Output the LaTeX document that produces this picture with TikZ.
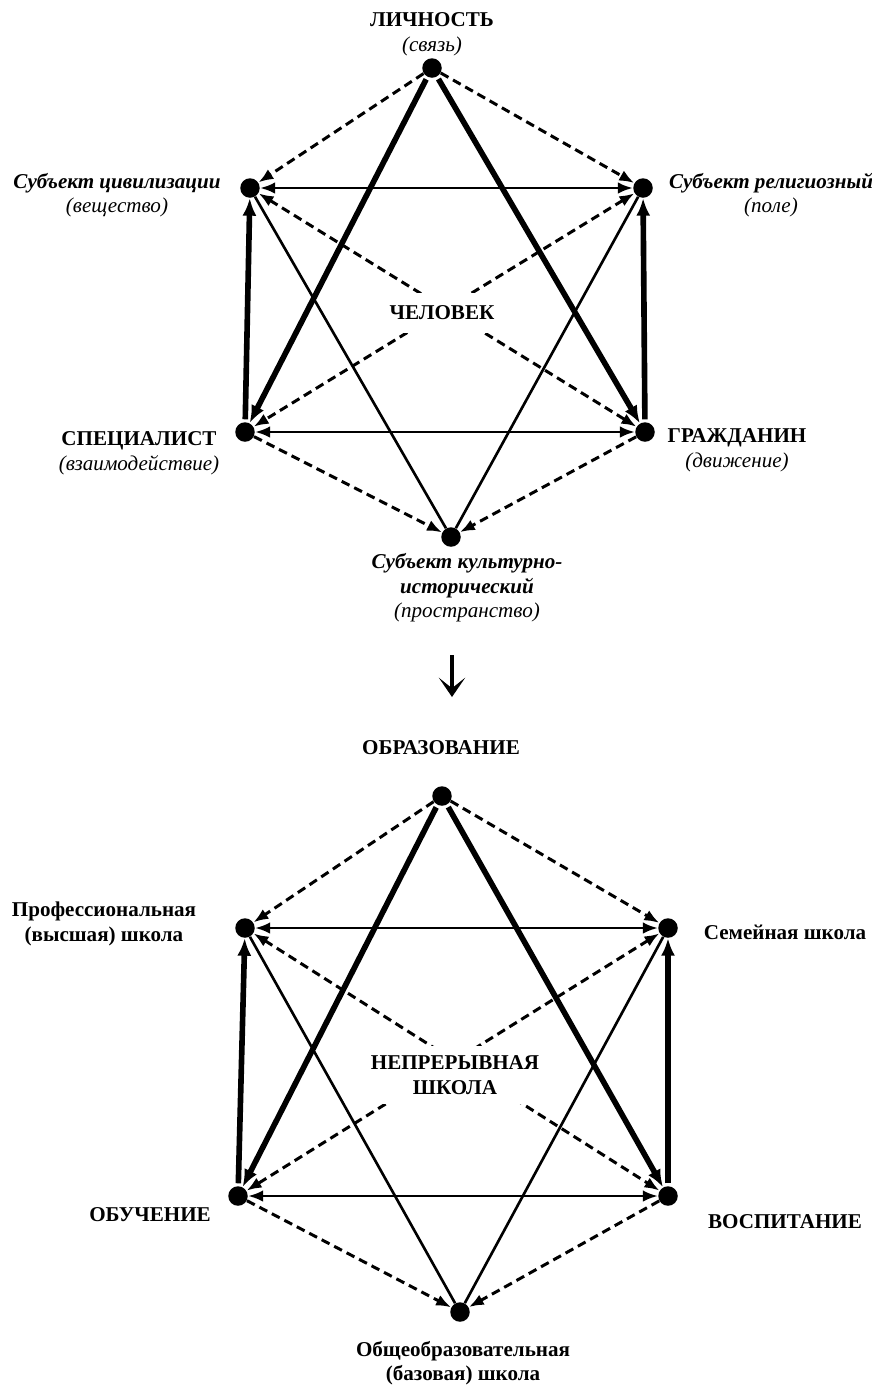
\documentclass[tikz,border=0pt]{standalone}
\usepackage{fontspec}
\setmainfont{Liberation Serif}
\usepackage{tikz}
\usetikzlibrary{arrows.meta}

\begin{document}
\begin{tikzpicture}[x=0.02cm, y=-0.02cm, font=\fontsize{12}{14}\selectfont,
    dot/.style={circle, fill=black, inner sep=0pt, minimum size=0.39cm},
    caps/.style={font=\fontsize{12}{14}\selectfont\bfseries, align=center},
    subj/.style={font=\fontsize{12}{14}\selectfont\bfseries\itshape, align=center},
    centre/.style={caps, fill=white, inner xsep=3pt, inner ysep=3pt},
    lnk/.style={line width=1.5pt},
    lnktwo/.style={lnk, {Latex[length=8.5pt,width=6.5pt]}-{Latex[length=8.5pt,width=6.5pt]}},
    lnkbold/.style={line width=3.2pt, shorten <=1.5pt, -{Latex[length=10pt,width=8pt]}},
    lnkdash/.style={line width=1.7pt, dash pattern=on 5pt off 3pt, -{Latex[length=8.5pt,width=6.5pt]}},
    lnkdashtwo/.style={lnkdash, {Latex[length=8.5pt,width=6.5pt]}-{Latex[length=8.5pt,width=6.5pt]}}]
  \useasboundingbox (0,0) rectangle (872,1387);

  % upper hexagon
  \node[dot] (lich)  at (432,68)  {};
  \node[dot] (civ)   at (250,188) {};
  \node[dot] (rel)   at (643,188) {};
  \node[dot] (spec)  at (245,432) {};
  \node[dot] (grazh) at (645,432) {};
  \node[dot] (kult)  at (451,537) {};

  \node[caps] (lich-t)  at (432,34)  {ЛИЧНОСТЬ\\{\mdseries\itshape (связь)}};
  \node[subj] (civ-t)   at (117,195) {Субъект цивилизации\\{\mdseries (вещество)}};
  \node[subj] (rel-t)   at (771,195) {Субъект религиозный\\{\mdseries (поле)}};
  \node[caps] (spec-t)  at (139,453) {СПЕЦИАЛИСТ\\{\mdseries\itshape (взаимодействие)}};
  \node[caps] (grazh-t) at (737,450) {ГРАЖДАНИН\\{\mdseries\itshape (движение)}};
  \node[subj] (kult-t)  at (467,588) {Субъект культурно-\\исторический\\{\mdseries (пространство)}};

  \draw[lnkdash] (lich) -- (civ);
  \draw[lnkdash] (lich) -- (rel);
  \draw[lnkbold] (lich) -- (spec);
  \draw[lnkbold] (lich) -- (grazh);
  \draw[lnktwo] (civ) -- (rel);
  \draw[lnktwo] (spec) -- (grazh);
  \draw[lnkbold] (spec) -- (civ);
  \draw[lnkbold] (grazh) -- (rel);
  \draw[lnk] (civ) -- (kult);
  \draw[lnk] (rel) -- (kult);
  \draw[lnkdashtwo] (civ) -- (grazh);
  \draw[lnkdashtwo] (rel) -- (spec);
  \draw[lnkdash] (spec) -- (kult);
  \draw[lnkdash] (grazh) -- (kult);
  \node[centre, minimum height=0.8cm] (chel) at (442,313) {ЧЕЛОВЕК};

  % transition
  \coordinate (dn-a) at (452,655);
  \coordinate (dn-b) at (452,697);
  \draw[line width=1.8pt, -{Stealth[length=11pt,width=15pt,inset=6pt]}] (dn-a) -- (dn-b);

  % lower hexagon
  \node[dot] (obr)   at (442,796)  {};
  \node[dot] (prof)  at (245,928)  {};
  \node[dot] (sem)   at (668,928)  {};
  \node[dot] (obuch) at (238,1196) {};
  \node[dot] (vosp)  at (668,1196) {};
  \node[dot] (obsch) at (460,1312) {};

  \node[caps] (obr-t)   at (441,748)  {ОБРАЗОВАНИЕ};
  \node[caps] (prof-t)  at (104,924)  {Профессиональная\\(высшая) школа};
  \node[caps] (sem-t)   at (785,932)  {Семейная школа};
  \node[caps] (obuch-t) at (150,1215) {ОБУЧЕНИЕ};
  \node[caps] (vosp-t)  at (785,1222) {ВОСПИТАНИЕ};
  \node[caps] (obsch-t) at (463,1363) {Общеобразовательная\\(базовая) школа};

  \draw[lnkdash] (obr) -- (prof);
  \draw[lnkdash] (obr) -- (sem);
  \draw[lnkbold] (obr) -- (obuch);
  \draw[lnkbold] (obr) -- (vosp);
  \draw[lnktwo] (prof) -- (sem);
  \draw[lnktwo] (obuch) -- (vosp);
  \draw[lnkbold] (obuch) -- (prof);
  \draw[lnkbold] (vosp) -- (sem);
  \draw[lnk] (prof) -- (obsch);
  \draw[lnk] (sem) -- (obsch);
  \draw[lnkdashtwo] (prof) -- (vosp);
  \draw[lnkdashtwo] (sem) -- (obuch);
  \draw[lnkdash] (obuch) -- (obsch);
  \draw[lnkdash] (vosp) -- (obsch);
  \node[centre, minimum height=1.16cm] (nepr) at (455,1075) {НЕПРЕРЫВНАЯ\\ШКОЛА};
\end{tikzpicture}
\end{document}
